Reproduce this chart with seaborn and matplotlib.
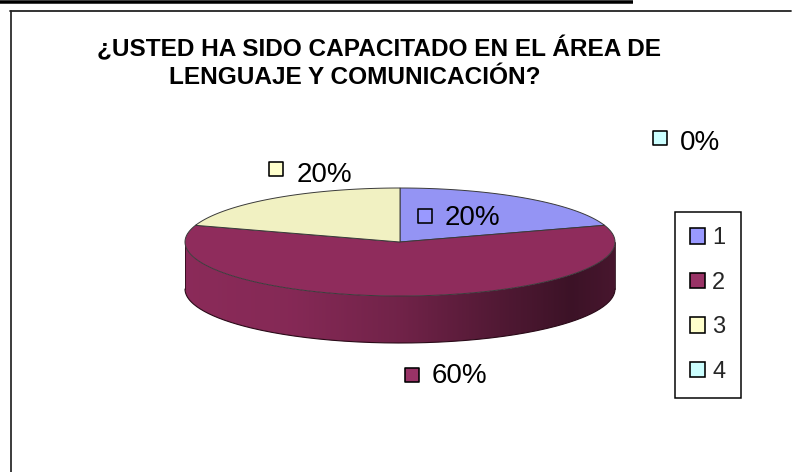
import numpy as np
import matplotlib
matplotlib.use("Agg")
import matplotlib.pyplot as plt
import seaborn as sns
from matplotlib.patches import Polygon, Patch

# ---------------- data ----------------
categories = ["1", "2", "3", "4"]
values = [20, 60, 20, 0]
legend_colors = ["#9999FF", "#993366", "#FFFFCC", "#CCFFFF"]
top_colors = ["#9494F4", "#8F2C5C", "#F1F1C2", "#C8F8F8"]
title_lines = ["¿USTED HA SIDO CAPACITADO EN EL ÁREA DE", "LENGUAJE Y COMUNICACIÓN?"]

# ---------------- style ----------------
sns.set_theme(style="white")
plt.rcParams['font.family'] = ['Liberation Sans', 'DejaVu Sans']

W, H = 798, 472
PX = 72 / 100  # points per pixel
fig = plt.figure(figsize=(W / 100, H / 100), dpi=100)
ax = fig.add_axes([0, 0, 1, 1])
ax.set_xlim(0, W)
ax.set_ylim(H, 0)
ax.axis('off')

# page decorations
ax.plot([0, 633], [1.7, 1.7], color='black', lw=3.5 * PX, solid_capstyle='butt')
ax.plot([10.5, 10.5], [11, H + 5], color='#111111', lw=1.6 * PX)
ax.plot([10, 791], [11.3, 11.3], color='#222222', lw=1.8 * PX)

# title
ax.text(97, 56, title_lines[0], fontsize=17.6, fontweight='bold', va='baseline', ha='left', color='black')
ax.text(169, 84, title_lines[1], fontsize=17.6, fontweight='bold', va='baseline', ha='left', color='black')

# ---------------- 3D pie ----------------
cx, cy, a, b, depth = 400, 242, 215, 54, 47
total = float(sum(values))
cum = np.concatenate([[0], np.cumsum(values)]) / total * 360.0


def pt(theta_deg, dy=0.0):
    t = np.radians(theta_deg)
    return cx + a * np.cos(t), cy - b * np.sin(t) + dy


def shade(u):
    return np.interp(u, [-1.0, -0.5, 0.0, 0.5, 0.8, 1.0], [0.97, 0.93, 0.79, 0.55, 0.42, 0.50])


# side (front half, theta in [-180, 0]) with horizontal gradient, clipped per slice
gx = np.linspace(cx - a, cx + a, 400)
for i, v in enumerate(values):
    if v <= 0:
        continue
    s, e = 90 - cum[i], 90 - cum[i + 1]  # clockwise: s > e
    for shift in (-360, 0, 360):
        lo, hi = max(e + shift, -180), min(s + shift, 0)
        if hi - lo <= 0:
            continue
        arc = np.linspace(lo, hi, 200)
        outline = [pt(t) for t in arc] + [pt(t, depth) for t in arc[::-1]]
        clip = Polygon(outline, closed=True, facecolor='none', edgecolor='none', transform=ax.transData)
        ax.add_patch(clip)
        base = np.array(matplotlib.colors.to_rgb(top_colors[i]))
        grad = np.clip(base[None, :] * shade((gx - cx) / a)[:, None], 0, 1)[None, :, :]
        im = ax.imshow(grad, extent=(cx - a, cx + a, cy + b + depth + 2, cy - b - 2),
                       aspect='auto', interpolation='bilinear', zorder=2)
        im.set_clip_path(clip)

front = np.linspace(-180, 0, 200)
fx, fy = zip(*[pt(t, depth) for t in front])
ax.plot(fx, fy, color='#2a0a18', lw=0.8, zorder=3)
for t in (-180, 0):
    x0, y0 = pt(t)
    x1, y1 = pt(t, depth)
    ax.plot([x0, x1], [y0, y1], color='#2a0a18', lw=0.6, zorder=3)

# top face
for i, v in enumerate(values):
    if v <= 0:
        continue
    s, e = 90 - cum[i], 90 - cum[i + 1]
    arc = np.linspace(s, e, 200)
    poly = [(cx, cy)] + [pt(t) for t in arc]
    ax.add_patch(Polygon(poly, closed=True, facecolor=top_colors[i], edgecolor='#3a3a3a', lw=0.7, zorder=4))

ax.set_xlim(0, W)
ax.set_ylim(H, 0)

# data labels with keys
label_key_xy = [(424.5, 215.5), (411.5, 374.5), (275.5, 168.5), (660, 138)]
label_text_xy = [(445, 225), (432, 383), (297, 182), (680, 150)]
kx, ky = zip(*label_key_xy)
ax.scatter(kx, ky, marker='s', s=(14 * PX) ** 2, c=legend_colors, edgecolors='black',
           linewidths=1.6 * PX, zorder=6)
for (tx, ty), v in zip(label_text_xy, values):
    ax.text(tx, ty, f"{v}%", fontsize=20, va='baseline', ha='left', color='black', zorder=6)

# legend
handles = [Patch(facecolor=c, edgecolor='black', linewidth=1.6 * PX) for c in legend_colors]
leg = ax.legend(handles, categories, loc='upper left', bbox_to_anchor=(675 / W, 1 - 212 / H),
                bbox_transform=ax.transAxes, fontsize=17, frameon=True, fancybox=False,
                edgecolor='black', framealpha=1, borderaxespad=0, handlelength=0.62,
                handleheight=0.62, handletextpad=0.3, labelspacing=0.95, borderpad=0.65)
leg.get_frame().set_linewidth(1.5 * PX)

fig.savefig("out.png", dpi=100, facecolor='white')
